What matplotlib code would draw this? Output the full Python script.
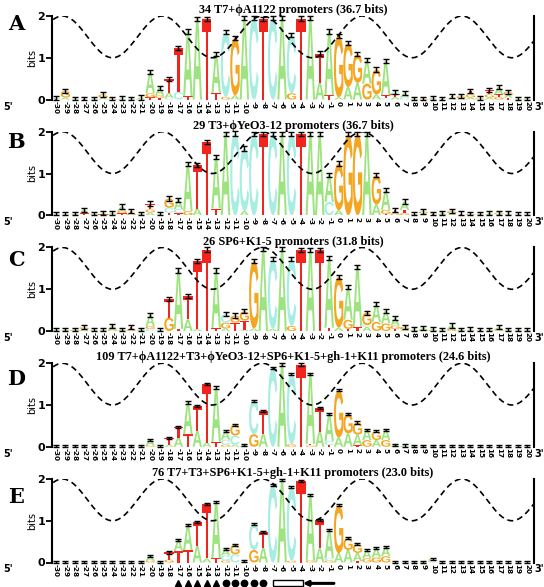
import matplotlib
matplotlib.use('Agg')
import matplotlib.pyplot as plt
import numpy as np
from matplotlib.textpath import TextPath
from matplotlib.patches import PathPatch, Rectangle
from matplotlib.font_manager import FontProperties
from matplotlib.transforms import Affine2D

# positions relative to the transcription start
positions = list(range(-30, 21))

panel_letters = ['A', 'B', 'C', 'D', 'E']
titles = [
    '34 T7+\u03d5A1122 promoters (36.7 bits)',
    '29 T3+\u03d5YeO3-12 promoters (36.7 bits)',
    '26 SP6+K1-5 promoters (31.8 bits)',
    '109 T7+\u03d5A1122+T3+\u03d5YeO3-12+SP6+K1-5+gh-1+K11 promoters (24.6 bits)',
    '76 T7+T3+SP6+K1-5+gh-1+K11 promoters (23.0 bits)',
]

# each stack: letters bottom -> top with height in bits
logo_A = [
    "T.01 A.03", "A.05 G.15", "A.02", "T.02", "A.02", "A.04 G.08", "G.02", "A.03", "A.02", "A.05",
    "T.05 G.1 A.5", "T.04 G.06 A.18", "C.04 A.12 T.34", "C.18 T1.05", "T.08 A1.55", "A1.93", "T1.93",
    "T.16 A.92", "G.06 C1.56", "A.1 G1.38", "A1.95", "C1.95", "T1.93", "C1.95", "A1.95", "G.15 C1.4",
    "T1.94", "A1.95", "A.4 T.7", "T.1 A1.53", "A.05 G1.48", "A.3 G1.05", "A.4 G.68", "G.38 A.56",
    "A.12 G.6", "C.03 T.07 A.82", "A.06 T.06 C.05", "C.05 A.1", "A.02", "G.02", "A.04", "T.02",
    "A.05 T.03", "A.03 G.05", "A.05 G.08 T.08", "G.03", "A.05 G.07 T.1", "G.06 T.06 A.18",
    "T.04 A.06 G.08", "A.02", "A.02",
]
logo_B = [
    "A.02", "A.02", "A.03", "T.05 A.08", "A.03", "T.02 A.03", "G.02 A.03", "T.05 G.06 A.1", "G.04 T.06",
    "A.03", "A.07 G.07 T.14", "A.02", "T.06 C.12 G.22", "T.05 C.1 A.22", "G.1 A1.12", "A.16 T1.04",
    "T1.75", "T.16 A1.24", "A1.95", "C1.96", "A.1 C1.5", "C1.95", "T1.95", "C1.95", "A1.95", "C1.95",
    "T1.95", "A1.95", "A1.95", "C.32 A.64", "A.12 G1.12", "G1.94", "G1.95", "A1.95", "A.26 G.7",
    "T.03 G.1 A.47", "G.04 A.04 T.05", "G.05 T.08 A.2", "A.03", "A.05 G.04", "T.03", "A.06",
    "A.04 G.06", "T.04", "G.03", "A.03", "A.05", "A.03 G.03", "A.04", "A.02", "A.02",
]
logo_C = [
    "A.03", "A.03", "G.03", "A.05 G.04", "A.03", "A.03", "G.04 A.08", "A.03", "G.04 T.06", "A.03",
    "C.05 G.07 A.26", "A.02", "G.32 T.45", "T.05 A1.4", "A.28 T.56", "A.05 T1.63", "T1.95",
    "T.07 A1.38", "A.06 G.14 C.2", "T.2 G.17", "A.03 T.22 G.22", "A.06 G1.62", "A1.96",
    "A.05 C1.67", "A1.96", "G.12 C1.6", "T1.94", "A1.94", "T1.94", "T.08 A1.66", "A.08 G1.22",
    "T.05 G.22 A.78", "T.1 A1.44", "A.1 C.04 G.3", "G.22 A.42", "G.18 A.3", "T.05 G.08 A.18",
    "A.04 G.06", "A.04", "G.03 A.04", "A.05", "A.02", "G.05 A.08", "A.03", "A.04", "T.03", "A.03",
    "G.04 A.05", "A.03", "A.02", "A.02",
]
logo_D = [
    "A.01", "A.01", "A.01", "A.01", "A.01", "A.01", "A.01", "A.01", "A.01", "A.02",
    "G.03 A.14", "A.02", "A.05 T.16", "A.22 T.26", "T.3 A.76", "A.38 T.6", "A.1 T1.4", "T.12 A1.3",
    "G.05 C.12 A.2", "A.05 C.22 G.26", "A.05", "G.3 C.8", "A.3 T.56", "C1.88", "A1.97", "G.06 C1.68",
    "T1.97", "G.03 T.04 A1.68", "A.36 T.56", "T.04 C.1 A.64", "A.22 G1.13", "A.32 G.46",
    "T.03 A.26 G.29", "G.16 A.25", "A.16 G.21", "G.16 A.25", "A.05", "A.03", "A.02", "A.01",
    "A.02", "A.01", "A.01", "A.01", "A.01", "A.01", "A.01", "A.01", "A.01", "A.01", "A.01",
]
logo_E = [
    "A.01", "A.01", "A.01", "A.01", "A.01", "A.01", "A.01", "A.01", "A.01", "A.02",
    "G.04 A.12", "A.02", "G.07 T.17", "T.28 A.25", "T.3 A.6", "A.4 T.58", "A.1 T1.3", "T.1 A1.36",
    "G.05 C.12 A.15", "C.2 G.22", "A.03", "G.3 C.63", "A.35 T.37", "C1.85", "A1.97", "G.04 C1.76",
    "T1.95", "G.05 A1.56", "A.34 T.68", "G.05 C.06 A.67", "A.22 G1.15", "A.3 G.28", "T.03 A.2 G.21",
    "G.1 A.19", "G.12 A.22", "G.15 A.22", "A.02", "A.01", "A.01", "A.01", "C.04 G.04", "A.01",
    "A.01", "A.01", "A.01", "A.01", "A.01", "A.01", "A.01", "A.01", "A.01",
]
logos = [logo_A, logo_B, logo_C, logo_D, logo_E]
err_half = [0.05, 0.05, 0.05, 0.025, 0.025]

# helix phase curve (one turn ~10.6 bp)
helix_period = 10.6
helix_peak = -29.3

# promoter features under panel E
tri_pos = [-17, -16, -15, -14, -13]
dot_pos = [-12, -11, -10, -9, -8]
box_span = [-7.0, -3.8]
arrow_span = [-3.8, -0.5]

colors = {'A': '#9de37f', 'C': '#a8ede2', 'G': '#f4a622', 'T': '#f2241d'}

fp = FontProperties(family='Liberation Sans', weight='bold')
glyphs = {}
for L in 'ACGT':
    p = TextPath((0, 0), L, size=1, prop=fp)
    ext = p.get_extents()
    glyphs[L] = Affine2D().translate(-ext.x0, -ext.y0).scale(1 / ext.width, 1 / ext.height).transform_path(p)


def draw_letter(ax, L, x, y, h, w=1.0):
    path = Affine2D().scale(w, h).translate(x - w / 2, y).transform_path(glyphs[L])
    ax.add_patch(PathPatch(path, fc=colors[L], ec='none', lw=0, zorder=2))


W, H = 544, 587
fig = plt.figure(figsize=(W / 100, H / 100), dpi=100)
step = 115.75
label_y = [24, 142, 260, 379, 497]

for i, logo in enumerate(logos):
    top_px = 16 + i * step
    bot_px = 99.5 + i * step
    ax = fig.add_axes([52 / W, 1 - bot_px / H, (534 - 52) / W, (bot_px - top_px) / H])
    ax.set_xlim(-30.42, 20.74)
    ax.set_ylim(0, 2)

    tops = []
    for pos, stack in zip(positions, logo):
        y = 0
        for tok in stack.split():
            h = float(tok[1:])
            draw_letter(ax, tok[0], pos, y, h)
            y += h
        tops.append(y)
    tops = np.array(tops)
    e = err_half[i]
    lower = np.minimum(e, tops)
    ax.errorbar(positions, tops, yerr=[lower, np.full(len(tops), e)], fmt='none', ecolor='black',
                elinewidth=1.0, capsize=2, capthick=1.0, zorder=3, clip_on=False)

    xs = np.linspace(-30.3, 20.7, 400)
    ax.plot(xs, 1.5 + 0.5 * np.cos(2 * np.pi * (xs - helix_peak) / helix_period),
            color='black', lw=1.2, linestyle=(0, (3.6, 2.4)), zorder=4)

    for s in ['top', 'bottom']:
        ax.spines[s].set_visible(False)
    ax.spines['left'].set_bounds(0, 2)
    ax.spines['right'].set_bounds(0, 2)
    ax.spines['left'].set_linewidth(1.5)
    ax.spines['right'].set_linewidth(1.5)

    ax.set_yticks([0, 1, 2])
    ax.set_yticklabels(['0', '1', '2'], fontsize=8, fontweight='bold')
    ax.tick_params(axis='y', length=4, width=1.3, pad=1)
    ax.set_ylabel('bits', fontsize=7, labelpad=0)

    ax.set_xticks(positions)
    ax.set_xticklabels([str(p) for p in positions], rotation=-90, fontsize=5.2, fontweight='bold')
    ax.tick_params(axis='x', length=0, pad=1)

    ax.set_title(titles[i], fontsize=8.8, fontweight='bold', family='Liberation Serif', pad=2)

    fig.text(16 / W, 1 - label_y[i] / H, panel_letters[i], ha='center', va='center',
             fontsize=15, fontweight='bold', family='DejaVu Serif')
    fig.text(8 / W, 1 - (bot_px + 7) / H, "5'", ha='center', va='center', fontsize=7, fontweight='bold')
    fig.text(539 / W, 1 - (bot_px + 7) / H, "3'", ha='center', va='center', fontsize=7, fontweight='bold')

    if i == len(logos) - 1:
        ym = -0.5
        ax.plot(tri_pos, [ym] * len(tri_pos), '^', color='black', ms=4.2, clip_on=False)
        ax.plot(dot_pos, [ym] * len(dot_pos), 'o', color='black', ms=4.6, clip_on=False)
        ax.add_patch(Rectangle((box_span[0], ym - 0.07), box_span[1] - box_span[0], 0.14,
                               fc='white', ec='black', lw=1, clip_on=False))
        ax.annotate('', xy=(arrow_span[0], ym), xytext=(arrow_span[1], ym), annotation_clip=False,
                    arrowprops=dict(arrowstyle='-|>', lw=2.2, color='black', mutation_scale=7,
                                    shrinkA=0, shrinkB=0))

fig.savefig('out.png', dpi=100)
